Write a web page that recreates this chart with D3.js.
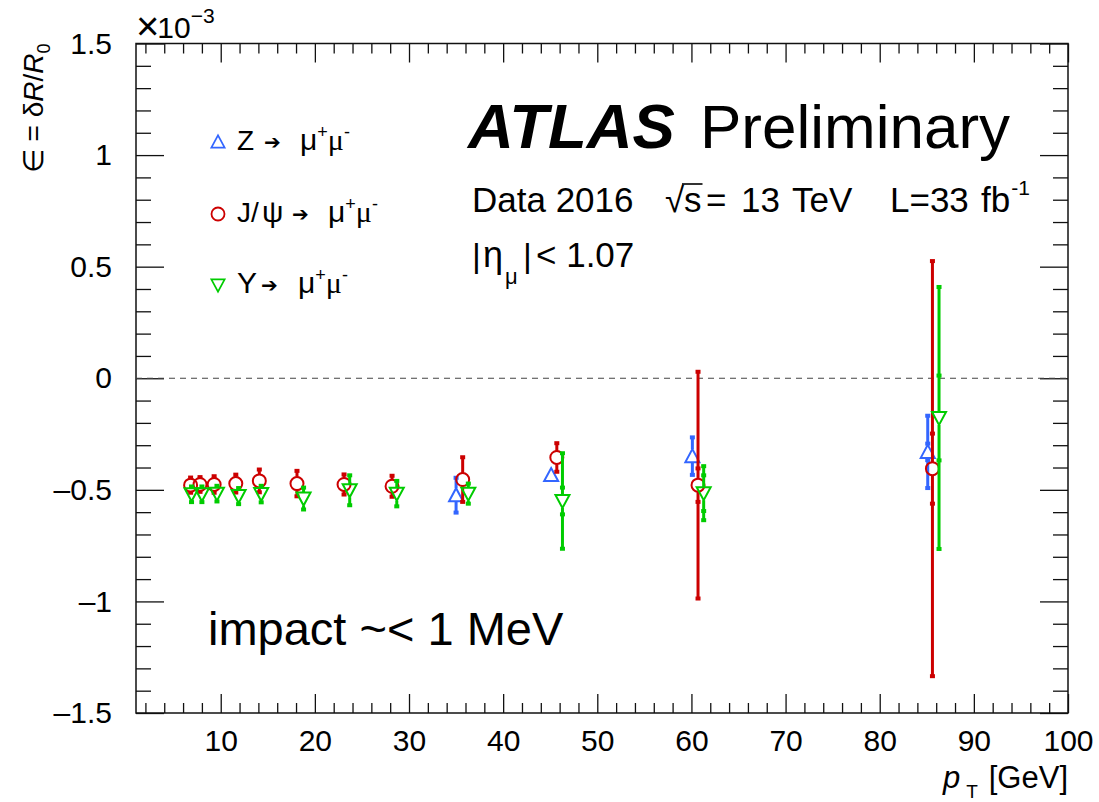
<!DOCTYPE html>
<html><head><meta charset="utf-8">
<script src="https://cdn.jsdelivr.net/npm/d3@7"></script>
<style>
body{margin:0;background:#fff}
svg{display:block}
text{font-family:"Liberation Sans",Arial,Helvetica,sans-serif;fill:#000}
</style>
</head><body>
<svg id="c" width="1099" height="802"></svg>
<script>
// ---- data (values in units of 1e-3) ----
const zPt  = [35.0, 45.1, 60.1, 85.1];
const zVal = [-0.524, -0.434, -0.349, -0.330];
const zErr = [0.078, 0.010, 0.084, 0.162];
const zStat= [0, 0, 0, 0.037];

const jPt  = [6.8, 7.8, 9.3, 11.6, 14.1, 18.1, 23.1, 28.2, 35.7, 45.7, 60.7, 85.6];
const jVal = [-0.479, -0.476, -0.476, -0.472, -0.460, -0.472, -0.476, -0.484, -0.454, -0.355, -0.479, -0.405];
const jErr = [0.034, 0.033, 0.037, 0.040, 0.051, 0.057, 0.045, 0.047, 0.100, 0.064, 0.508, 0.930];
const jStat= [0, 0, 0, 0, 0, 0, 0, 0, 0, 0, 0.075, 0.157];

const uPt  = [6.9, 8.0, 9.6, 11.9, 14.3, 18.8, 23.7, 28.7, 36.3, 46.3, 61.3, 86.3];
const uVal = [-0.520, -0.520, -0.517, -0.528, -0.519, -0.539, -0.502, -0.517, -0.517, -0.550, -0.515, -0.178];
const uErr = [0.035, 0.035, 0.035, 0.036, 0.037, 0.049, 0.067, 0.057, 0.045, 0.214, 0.121, 0.587];
const uStat= [0, 0, 0, 0, 0, 0, 0, 0, 0, 0.060, 0.080, 0.190];

const xTickLabels = [10, 20, 30, 40, 50, 60, 70, 80, 90, 100];
const yTickLabels = [-1.5, -1, -0.5, 0, 0.5, 1, 1.5];

// ---- layout ----
const L = 136, R = 1068, T = 43.5, B = 713;
const svg = d3.select("#c");
const x = d3.scaleLinear().domain([1, 100]).range([L, R]);
const y = d3.scaleLinear().domain([-1.5, 1.5]).range([B, T]);
const FONT = '"Liberation Sans",Arial,Helvetica,sans-serif';
const SERIF = '"Liberation Serif","Times New Roman",serif';
const ARROWF = '"DejaVu Sans",sans-serif';

const xMinor = d3.range(2, 100, 2).filter(v => v % 10 !== 0);
const yMinor = d3.range(-14, 15, 1).map(v => v / 10).filter(v => Math.abs(v * 10) % 5 !== 0);

function fmtY(d) {
  if (d === 0) return "0";
  const s = d3.format("~g")(Math.abs(d));
  return d < 0 ? "\u2013" + s : s;
}
function style(g, labels) {
  g.select(".domain").remove();
  g.attr("font-family", FONT).attr("font-size", 30);
  g.selectAll("line").attr("stroke", "#111").attr("stroke-width", 1.3);
  g.selectAll("text").attr("fill", "#000");
  if (!labels) g.selectAll("text").remove();
}
// bottom
svg.append("g").attr("transform", `translate(0,${B})`)
  .call(d3.axisBottom(x).tickValues(xTickLabels).tickSize(-19).tickPadding(17).tickFormat(d3.format("d")))
  .call(g => style(g, true));
svg.append("g").attr("transform", `translate(0,${B})`)
  .call(d3.axisBottom(x).tickValues(xMinor).tickSize(-10)).call(g => style(g, false));
// top
svg.append("g").attr("transform", `translate(0,${T})`)
  .call(d3.axisTop(x).tickValues(xTickLabels).tickSize(-19)).call(g => style(g, false));
svg.append("g").attr("transform", `translate(0,${T})`)
  .call(d3.axisTop(x).tickValues(xMinor).tickSize(-10)).call(g => style(g, false));
// left
svg.append("g").attr("transform", `translate(${L},0)`)
  .call(d3.axisLeft(y).tickValues(yTickLabels).tickSize(-28).tickPadding(24).tickFormat(fmtY))
  .call(g => style(g, true));
svg.append("g").attr("transform", `translate(${L},0)`)
  .call(d3.axisLeft(y).tickValues(yMinor).tickSize(-15)).call(g => style(g, false));
// right
svg.append("g").attr("transform", `translate(${R},0)`)
  .call(d3.axisRight(y).tickValues(yTickLabels).tickSize(-28)).call(g => style(g, false));
svg.append("g").attr("transform", `translate(${R},0)`)
  .call(d3.axisRight(y).tickValues(yMinor).tickSize(-15)).call(g => style(g, false));

// frame
svg.append("rect").attr("x", L).attr("y", T).attr("width", R - L).attr("height", B - T)
  .attr("fill", "none").attr("stroke", "#111").attr("stroke-width", 1.5);

// zero line
svg.append("line").attr("x1", L).attr("x2", R).attr("y1", y(0)).attr("y2", y(0))
  .attr("stroke", "#444").attr("stroke-width", 1.1).attr("stroke-dasharray", "6,5");

// markers
const shapes = {
  up:   { path: "M-7,6L7,6L0,-7Z", top: 7, bot: 6 },
  down: { path: "M-7,-6L7,-6L0,7Z", top: 6, bot: 7 },
  circle: { r: 6.5, top: 6.5, bot: 6.5 }
};
function drawMarker(g, shape, cx, cy, color) {
  if (shape === "circle") {
    g.append("circle").attr("cx", cx).attr("cy", cy).attr("r", shapes.circle.r)
      .attr("fill", "none").attr("stroke", color).attr("stroke-width", 2);
  } else {
    g.append("path").attr("d", shapes[shape].path).attr("transform", `translate(${cx},${cy})`)
      .attr("fill", "none").attr("stroke", color).attr("stroke-width", 2).attr("stroke-linejoin", "miter");
  }
}

const series = [
  { pt: zPt, val: zVal, err: zErr, stat: zStat, color: "#3366ff", shape: "up" },
  { pt: jPt, val: jVal, err: jErr, stat: jStat, color: "#cc0000", shape: "circle" },
  { pt: uPt, val: uVal, err: uErr, stat: uStat, color: "#00cc00", shape: "down" }
];
series.forEach(s => {
  const g = svg.append("g");
  const sh = shapes[s.shape];
  s.pt.forEach((p, i) => {
    const cx = x(p), cy = y(s.val[i]);
    const top = y(s.val[i] + s.err[i]), bot = y(s.val[i] - s.err[i]);
    if (cy - top > sh.top) {
      g.append("line").attr("x1", cx).attr("x2", cx).attr("y1", top).attr("y2", cy - sh.top)
        .attr("stroke", s.color).attr("stroke-width", 3);
      g.append("rect").attr("x", cx - 2.5).attr("y", top - 2).attr("width", 5).attr("height", 4).attr("fill", s.color);
    }
    if (bot - cy > sh.bot) {
      g.append("line").attr("x1", cx).attr("x2", cx).attr("y1", cy + sh.bot).attr("y2", bot)
        .attr("stroke", s.color).attr("stroke-width", 3);
      g.append("rect").attr("x", cx - 2.5).attr("y", bot - 2).attr("width", 5).attr("height", 4).attr("fill", s.color);
    }
    if (s.stat[i] > 0) {
      [s.val[i] + s.stat[i], s.val[i] - s.stat[i]].forEach(v => {
        const yy = y(v);
        if (Math.abs(yy - cy) > 7)
          g.append("rect").attr("x", cx - 2.5).attr("y", yy - 2).attr("width", 5).attr("height", 4).attr("fill", s.color);
      });
    }
    drawMarker(g, s.shape, cx, cy, s.color);
  });
});

// legend
const legend = [
  { shape: "up", color: "#3366ff", y: 150, parts: [["Z", FONT, 237], ["\u2794", ARROWF, 264], ["\u03bc", SERIF, 300]] },
  { shape: "circle", color: "#cc0000", y: 222, parts: [["J/", FONT, 237], ["\u03c8", SERIF, 262], ["\u2794", ARROWF, 292], ["\u03bc", SERIF, 328]] },
  { shape: "down", color: "#00cc00", y: 293, parts: [["\u03a5", SERIF, 237], ["\u2794", ARROWF, 261], ["\u03bc", SERIF, 298]] }
];
legend.forEach(l => {
  const g = svg.append("g");
  if (l.shape === "circle")
    g.append("circle").attr("cx", 218).attr("cy", l.y - 8).attr("r", 6.5).attr("fill", "none").attr("stroke", l.color).attr("stroke-width", 1.8);
  else
    g.append("path").attr("d", shapes[l.shape].path).attr("transform", `translate(218,${l.y - 8}) scale(0.95)`)
      .attr("fill", "none").attr("stroke", l.color).attr("stroke-width", 1.8);
  l.parts.forEach((p, k) => {
    const t = g.append("text").attr("x", p[2]).attr("y", l.y).attr("font-family", p[1])
      .attr("font-size", p[1] === ARROWF ? 20 : (p[1] === SERIF ? 30 : 28));
    if (p[1] === ARROWF) t.attr("y", l.y - 1);
    if (k === l.parts.length - 1) {
      t.text("\u03bc");
      t.append("tspan").attr("font-family", FONT).attr("font-size", 18).attr("dy", -12).text("+");
      t.append("tspan").attr("font-family", SERIF).attr("font-size", 30).attr("dy", 12).text("\u03bc");
      t.append("tspan").attr("font-family", FONT).attr("font-size", 18).attr("dy", -12).text("-");
    } else t.text(p[0]);
  });
});

// ATLAS label
const at = svg.append("text").attr("x", 468).attr("y", 148).attr("font-size", 62);
at.append("tspan").attr("font-weight", "bold").attr("font-style", "italic").attr("font-size", 63.5).text("ATLAS");
at.append("tspan").attr("x", 700).text("Preliminary");

const F2 = 35;
svg.append("text").attr("x", 472).attr("y", 212).attr("font-size", F2).text("Data 2016");
svg.append("text").attr("x", 665).attr("y", 212).attr("font-size", F2).attr("font-family", ARROWF).text("\u221a");
const sText = svg.append("text").attr("x", 684).attr("y", 212).attr("font-size", F2).text("s");
const sb = sText.node().getBBox();
svg.append("line").attr("x1", 682).attr("x2", sb.x + sb.width + 1).attr("y1", 184).attr("y2", 184)
  .attr("stroke", "#000").attr("stroke-width", 1.6);
svg.append("text").attr("x", 706).attr("y", 212).attr("font-size", F2).text("=");
svg.append("text").attr("x", 741).attr("y", 212).attr("font-size", F2).text("13");
svg.append("text").attr("x", 792).attr("y", 212).attr("font-size", F2).text("TeV");
svg.append("text").attr("x", 890).attr("y", 212).attr("font-size", F2).text("L=33");
const lt = svg.append("text").attr("x", 981).attr("y", 212).attr("font-size", F2).text("fb");
lt.append("tspan").attr("font-size", 21).attr("dy", -17).attr("dx", 1).text("-1");

const eta = svg.append("g");
eta.append("text").attr("x", 472).attr("y", 267).attr("font-size", 34).text("|");
eta.append("text").attr("x", 483).attr("y", 267).attr("font-size", 36).attr("font-family", SERIF).text("\u03b7");
eta.append("text").attr("x", 505).attr("y", 284).attr("font-size", 22).attr("font-family", SERIF).text("\u03bc");
eta.append("text").attr("x", 523).attr("y", 267).attr("font-size", 34).text("|");
eta.append("text").attr("x", 536).attr("y", 267).attr("font-size", 35).text("< 1.07");

svg.append("text").attr("x", 208).attr("y", 645).attr("font-size", 47).text("impact ~< 1 MeV");

// axis titles
const xt = svg.append("text").attr("x", R).attr("y", 788).attr("font-size", 31).attr("text-anchor", "end");
xt.append("tspan").attr("font-style", "italic").text("p");
xt.append("tspan").attr("font-size", 19).attr("dy", 10).attr("dx", 6).text("T");
xt.append("tspan").attr("dy", -10).attr("dx", 11).text("[GeV]");

const yt = svg.append("text").attr("transform", `translate(43,${T}) rotate(-90)`)
  .attr("text-anchor", "end").attr("font-size", 28);
yt.append("tspan").text("\u2208 = \u03b4");
yt.append("tspan").attr("font-style", "italic").text("R");
yt.append("tspan").text("/");
yt.append("tspan").attr("font-style", "italic").text("R");
yt.append("tspan").attr("font-size", 18).attr("dy", 7).text("0");

const ex = svg.append("text").attr("x", 136).attr("y", 38).attr("font-size", 30);
ex.append("tspan").attr("font-size", 40).attr("dy", 2).text("\u00d7");
ex.append("tspan").attr("dy", -2).attr("dx", -2).text("10");
ex.append("tspan").attr("font-size", 21).attr("dy", -15).text("\u22123");
</script>
</body></html>
